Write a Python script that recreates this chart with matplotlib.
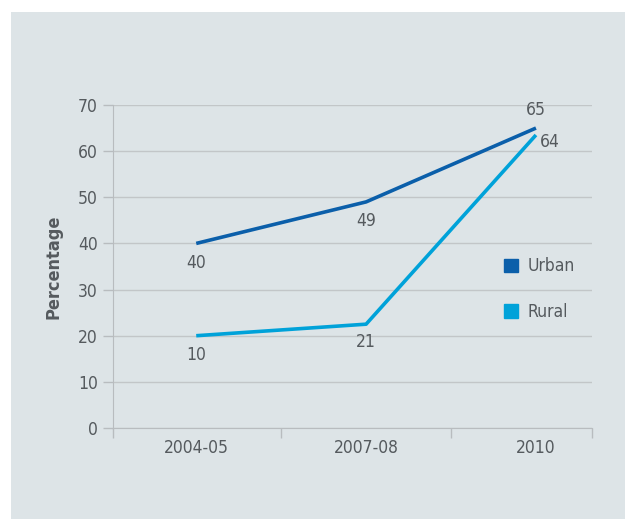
import matplotlib.pyplot as plt
from matplotlib.patches import Patch, Rectangle

years = ["2004-05", "2007-08", "2010"]
urban = [40, 49, 65]
rural = [20, 22.5, 63.5]
urban_labels = ["40", "49", "65"]
rural_labels = ["10", "21", "64"]
yticks = [0, 10, 20, 30, 40, 50, 60, 70]

plt.rcParams["font.family"] = ["DejaVu Sans"]
plt.rcParams["font.stretch"] = "condensed"
txt = "#555a5e"
bg = "#dde4e7"
c_urban = "#0b5faa"
c_rural = "#00a2d9"
fs = 12.5

fig = plt.figure(figsize=(6.25, 5.19), dpi=100)
fig.patches.append(Rectangle((11/625, 0), 1, 1 - 12/519, transform=fig.transFigure,
                             facecolor=bg, edgecolor="none", zorder=-10))
ax = fig.add_axes([113/625, 1 - 428/519, 479/625, 323/519])
ax.set_facecolor(bg)

x = [0, 1, 2]
ax.plot(x, urban, color=c_urban, linewidth=2.6, solid_capstyle="butt", zorder=3)
ax.plot(x, rural, color=c_rural, linewidth=2.6, solid_capstyle="butt", zorder=3)

ax.set_xlim(-0.49, 2.33)
ax.set_ylim(0, 70)
ax.set_yticks(yticks)
ax.set_xticks(x)
ax.set_xticklabels(years)
ax.set_xticks([-0.49, 0.5, 1.5, 2.33], minor=True)
ax.tick_params(axis="x", which="major", length=0, pad=8, labelsize=fs, colors=txt)
ax.tick_params(axis="x", which="minor", length=7, color="#b8bcbf", width=1)
ax.tick_params(axis="y", length=7, color="#b8bcbf", width=1, labelsize=fs,
               colors=txt, pad=4)
ax.grid(axis="y", color="#c2c6c8", linewidth=1)
ax.set_axisbelow(True)
for s in ["top", "right"]:
    ax.spines[s].set_visible(False)
ax.spines["left"].set_color("#b8bcbf")
ax.spines["bottom"].set_color("#b8bcbf")
ax.set_ylabel("Percentage", fontsize=13, fontweight="bold", color=txt, labelpad=11)

offs_u = [(0, -14), (0, -14), (0, 13)]
offs_r = [(0, -14), (0, -13), (10, -5)]
for i in range(3):
    ax.annotate(urban_labels[i], (x[i], urban[i]), xytext=offs_u[i],
                textcoords="offset points", ha="center", va="center",
                fontsize=fs, color=txt)
    ax.annotate(rural_labels[i], (x[i], rural[i]), xytext=offs_r[i],
                textcoords="offset points", ha="center", va="center",
                fontsize=fs, color=txt)

handles = [Patch(color=c_urban, label="Urban"), Patch(color=c_rural, label="Rural")]
ax.legend(handles=handles, loc="center left", bbox_to_anchor=(0.783, 0.43),
          frameon=False, fontsize=fs, labelcolor=txt, handlelength=0.8,
          handleheight=0.8, labelspacing=1.6, handletextpad=0.6)

fig.savefig("out.png", dpi=100)
